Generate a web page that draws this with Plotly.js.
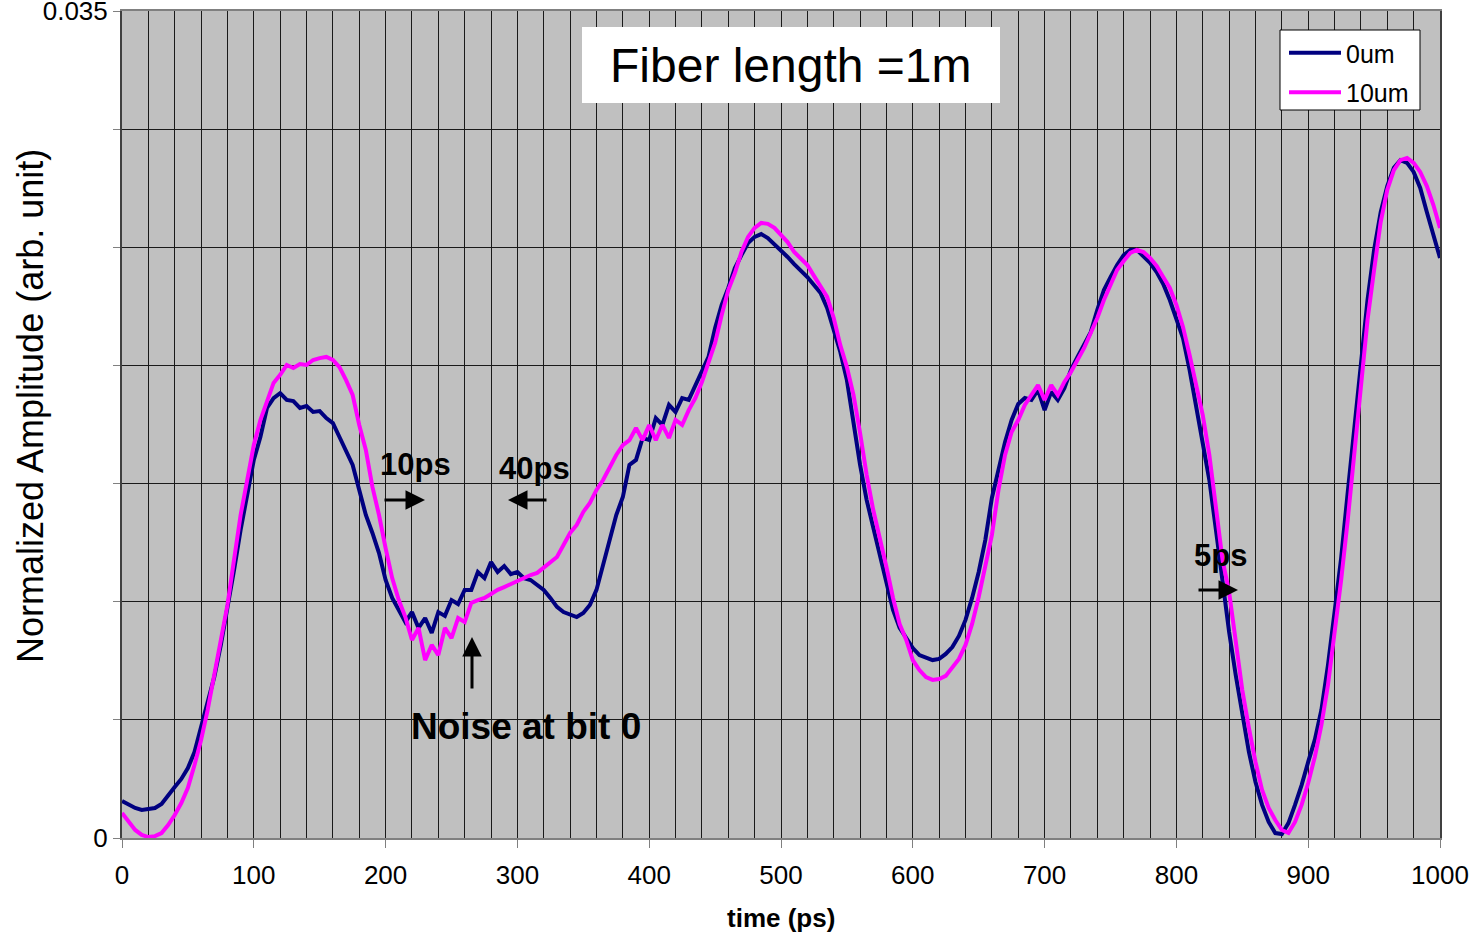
<!DOCTYPE html>
<html>
<head>
<meta charset="utf-8">
<script src="https://cdn.plot.ly/plotly-3.0.1.min.js"></script>
<style>html,body{margin:0;padding:0;background:#fff;}#chart{width:1476px;height:935px;}</style>
</head>
<body>
<div id="chart"></div>
<script>
// time samples (ps)
var timePs = [
  0,5,10,15,20,25,30,35,40,45,
  50,55,60,65,70,75,80,85,90,95,
  100,105,110,115,120,125,130,135,140,145,
  150,155,160,165,170,175,180,185,190,195,
  200,205,210,215,220,225,230,235,240,245,
  250,255,260,265,270,275,280,285,290,295,
  300,305,310,315,320,325,330,335,340,345,
  350,355,360,365,370,375,380,385,390,395,
  400,405,410,415,420,425,430,435,440,445,
  450,455,460,465,470,475,480,485,490,495,
  500,505,510,515,520,525,530,535,540,545,
  550,555,560,565,570,575,580,585,590,595,
  600,605,610,615,620,625,630,635,640,645,
  650,655,660,665,670,675,680,685,690,695,
  700,705,710,715,720,725,730,735,740,745,
  750,755,760,765,770,775,780,785,790,795,
  800,805,810,815,820,825,830,835,840,845,
  850,855,860,865,870,875,880,885,890,895,
  900,905,910,915,920,925,930,935,940,945,
  950,955,960,965,970,975,980,985,990,995,
  1000
];

// 0um series
var amp0um = [
  0.00157,0.00140,0.00127,0.00119,0.00123,0.00127,0.00144,0.00182,0.00216,0.00250,
  0.00296,0.00364,0.00466,0.00563,0.00681,0.00817,0.00965,0.01134,0.01304,0.01452,
  0.01600,0.01697,0.01820,0.01862,0.01883,0.01854,0.01849,0.01820,0.01828,0.01803,
  0.01807,0.01777,0.01756,0.01697,0.01642,0.01579,0.01473,0.01367,0.01291,0.01206,
  0.01092,0.01016,0.00965,0.00914,0.00956,0.00889,0.00931,0.00868,0.00956,0.00940,
  0.01007,0.00990,0.01050,0.01050,0.01126,0.01100,0.01168,0.01126,0.01151,0.01117,
  0.01126,0.01100,0.01092,0.01071,0.01050,0.01016,0.00978,0.00956,0.00944,0.00935,
  0.00952,0.00986,0.01050,0.01155,0.01261,0.01367,0.01443,0.01579,0.01600,0.01693,
  0.01684,0.01777,0.01748,0.01833,0.01803,0.01862,0.01854,0.01917,0.01972,0.02036,
  0.02158,0.02256,0.02328,0.02412,0.02467,0.02518,0.02544,0.02556,0.02539,0.02514,
  0.02489,0.02459,0.02429,0.02404,0.02374,0.02340,0.02307,0.02243,0.02150,0.02057,
  0.01938,0.01748,0.01579,0.01430,0.01316,0.01198,0.01092,0.00965,0.00889,0.00846,
  0.00804,0.00774,0.00762,0.00753,0.00758,0.00779,0.00808,0.00855,0.00923,0.01016,
  0.01126,0.01261,0.01439,0.01557,0.01676,0.01769,0.01837,0.01862,0.01854,0.01896,
  0.01811,0.01888,0.01854,0.01904,0.01981,0.02036,0.02086,0.02141,0.02235,0.02319,
  0.02374,0.02425,0.02467,0.02489,0.02489,0.02463,0.02434,0.02395,0.02345,0.02277,
  0.02201,0.02116,0.01981,0.01833,0.01672,0.01515,0.01304,0.01071,0.00872,0.00690,
  0.00521,0.00364,0.00237,0.00140,0.00068,0.00021,0.00017,0.00063,0.00140,0.00224,
  0.00322,0.00415,0.00542,0.00732,0.00956,0.01185,0.01464,0.01735,0.02023,0.02277,
  0.02489,0.02649,0.02759,0.02836,0.02869,0.02857,0.02819,0.02751,0.02649,0.02552,
  0.02455
];

// 10um series
var amp10um = [
  0.00106,0.00068,0.00034,0.00013,0.00004,0.00008,0.00021,0.00055,0.00097,0.00148,
  0.00212,0.00309,0.00415,0.00542,0.00690,0.00830,0.00986,0.01177,0.01367,0.01515,
  0.01663,0.01769,0.01854,0.01926,0.01960,0.02002,0.01989,0.02006,0.02002,0.02023,
  0.02031,0.02036,0.02023,0.01993,0.01938,0.01875,0.01748,0.01642,0.01486,0.01367,
  0.01227,0.01100,0.01007,0.00935,0.00838,0.00889,0.00753,0.00817,0.00774,0.00889,
  0.00846,0.00931,0.00914,0.00995,0.01007,0.01016,0.01033,0.01050,0.01062,0.01075,
  0.01088,0.01100,0.01113,0.01122,0.01143,0.01164,0.01189,0.01240,0.01291,0.01325,
  0.01380,0.01418,0.01473,0.01515,0.01570,0.01621,0.01663,0.01684,0.01735,0.01684,
  0.01748,0.01684,0.01748,0.01693,0.01769,0.01748,0.01811,0.01862,0.01930,0.02015,
  0.02095,0.02213,0.02319,0.02391,0.02480,0.02544,0.02582,0.02603,0.02599,0.02582,
  0.02552,0.02522,0.02480,0.02450,0.02425,0.02379,0.02332,0.02290,0.02201,0.02086,
  0.01993,0.01875,0.01714,0.01536,0.01388,0.01274,0.01147,0.01016,0.00906,0.00838,
  0.00753,0.00711,0.00681,0.00669,0.00673,0.00686,0.00719,0.00758,0.00817,0.00906,
  0.01020,0.01155,0.01282,0.01473,0.01621,0.01718,0.01769,0.01833,0.01875,0.01917,
  0.01854,0.01917,0.01875,0.01930,0.01972,0.02023,0.02074,0.02137,0.02201,0.02277,
  0.02345,0.02404,0.02442,0.02476,0.02489,0.02480,0.02455,0.02421,0.02374,0.02328,
  0.02256,0.02163,0.02044,0.01917,0.01790,0.01621,0.01409,0.01177,0.01041,0.00838,
  0.00626,0.00466,0.00322,0.00203,0.00127,0.00076,0.00034,0.00021,0.00068,0.00140,
  0.00233,0.00343,0.00478,0.00648,0.00859,0.01092,0.01346,0.01621,0.01917,0.02192,
  0.02404,0.02607,0.02743,0.02827,0.02869,0.02878,0.02857,0.02819,0.02759,0.02679,
  0.02582
];

var seriesNames = ['0um', '10um'];
var xTickVals = [0,100,200,300,400,500,600,700,800,900,1000];
var xTickText = ['0','100','200','300','400','500','600','700','800','900','1000'];
var yTickVals = [0,0.005,0.01,0.015,0.02,0.025,0.03,0.035];
var yTickText = ['0','','','','','','','0.035'];

var FONT = 'Liberation Sans, Arial, sans-serif';

var traces = [
  {x: timePs, y: amp0um, name: seriesNames[0], type: 'scatter', mode: 'lines',
   line: {color: '#000080', width: 4}, legendgroup: 'a'},
  {x: timePs, y: amp10um, name: seriesNames[1], type: 'scatter', mode: 'lines',
   line: {color: '#ff00ff', width: 4}, legendgroup: 'b'}
];

function px2x(p){ return (p - 122) / 1318; }
function px2y(p){ return (838 - p) / 827; }

var layout = {
  width: 1476, height: 935,
  margin: {l: 122, r: 36, t: 11, b: 97},
  paper_bgcolor: '#ffffff',
  plot_bgcolor: '#c0c0c0',
  showlegend: true,
  font: {family: FONT, color: '#000'},
  xaxis: {
    range: [0, 1000], tickvals: xTickVals, ticktext: xTickText,
    ticks: 'outside', ticklen: 8, tickcolor: '#808080', tickwidth: 1,
    ticklabelstandoff: 5,
    showgrid: true, gridcolor: '#1a1a1a', gridwidth: 1,
    minor: {dtick: 20, showgrid: true, gridcolor: '#1a1a1a', gridwidth: 1, ticks: ''},
    showline: true, linecolor: '#808080', linewidth: 2, mirror: true,
    zeroline: false,
    tickfont: {family: FONT, size: 26, color: '#000'},
    fixedrange: true
  },
  yaxis: {
    range: [0, 0.035], tickvals: yTickVals, ticktext: yTickText,
    ticks: 'outside', ticklen: 7, tickcolor: '#808080', tickwidth: 1,
    ticklabeloverflow: 'allow',
    showgrid: true, gridcolor: '#1a1a1a', gridwidth: 1,
    showline: true, linecolor: '#404040', linewidth: 2, mirror: true,
    zeroline: false,
    tickfont: {family: FONT, size: 26, color: '#000'},
    fixedrange: true
  },
  legend: {
    x: px2x(1284), y: px2y(30), xanchor: 'left', yanchor: 'top',
    bgcolor: 'rgba(0,0,0,0)', borderwidth: 0,
    font: {family: FONT, size: 25, color: '#000'},
    itemwidth: 52,
    tracegroupgap: 4, traceorder: 'grouped'
  },
  shapes: [
    {type: 'rect', xref: 'paper', yref: 'paper', x0: px2x(582), x1: px2x(1000), y0: px2y(103), y1: px2y(27),
     fillcolor: '#ffffff', line: {width: 0}, layer: 'above'},
    {type: 'rect', xref: 'paper', yref: 'paper', x0: px2x(1280), x1: px2x(1420), y0: px2y(110), y1: px2y(30),
     fillcolor: '#ffffff', line: {color: '#000', width: 1}, layer: 'above'},
    {type: 'rect', xref: 'paper', yref: 'paper', x0: px2x(390), x1: px2x(688), y0: px2y(758), y1: px2y(693),
     fillcolor: '#c0c0c0', line: {width: 0}, layer: 'between'}
  ],
  annotations: [
    {xref: 'paper', yref: 'paper', x: px2x(791), y: px2y(66), text: 'Fiber length =1m', showarrow: false,
     font: {family: FONT, size: 48, color: '#000'}, xanchor: 'center', yanchor: 'middle'},
    {xref: 'paper', yref: 'paper', x: px2x(409), y: px2y(726), text: '<b>Noise at bit 0</b>', showarrow: false,
     font: {family: FONT, size: 37, color: '#000'}, xanchor: 'left', yanchor: 'middle'},
    {xref: 'paper', yref: 'paper', x: px2x(415), y: px2y(465), text: '<b>10ps</b>', showarrow: false,
     font: {family: FONT, size: 31, color: '#000'}, xanchor: 'center', yanchor: 'middle'},
    {xref: 'paper', yref: 'paper', x: px2x(534), y: px2y(468), text: '<b>40ps</b>', showarrow: false,
     font: {family: FONT, size: 31, color: '#000'}, xanchor: 'center', yanchor: 'middle'},
    {xref: 'paper', yref: 'paper', x: px2x(1220), y: px2y(555), text: '<b>5ps</b>', showarrow: false,
     font: {family: FONT, size: 31, color: '#000'}, xanchor: 'center', yanchor: 'middle'},
    {xref: 'paper', yref: 'paper', x: px2x(425), y: px2y(500), ax: -42, ay: 0, text: '', showarrow: true,
     arrowhead: 2, arrowsize: 1.3, arrowwidth: 3, arrowcolor: '#000'},
    {xref: 'paper', yref: 'paper', x: px2x(508), y: px2y(500), ax: 40, ay: 0, text: '', showarrow: true,
     arrowhead: 2, arrowsize: 1.3, arrowwidth: 3, arrowcolor: '#000'},
    {xref: 'paper', yref: 'paper', x: px2x(1238), y: px2y(590), ax: -41, ay: 0, text: '', showarrow: true,
     arrowhead: 2, arrowsize: 1.3, arrowwidth: 3, arrowcolor: '#000'},
    {xref: 'paper', yref: 'paper', x: px2x(472), y: px2y(637), ax: 0, ay: 53, text: '', showarrow: true,
     arrowhead: 2, arrowsize: 1.3, arrowwidth: 3, arrowcolor: '#000'},
    {xref: 'paper', yref: 'paper', x: px2x(31), y: px2y(406), text: 'Normalized Amplitude (arb. unit)', showarrow: false,
     textangle: -90, font: {family: FONT, size: 36, color: '#000'}, xanchor: 'center', yanchor: 'middle'},
    {xref: 'paper', yref: 'paper', x: px2x(781), y: px2y(918), text: '<b>time (ps)</b>', showarrow: false,
     font: {family: FONT, size: 26, color: '#000'}, xanchor: 'center', yanchor: 'middle'}
  ]
};

Plotly.newPlot('chart', traces, layout, {displayModeBar: false, staticPlot: true});
</script>
</body>
</html>
